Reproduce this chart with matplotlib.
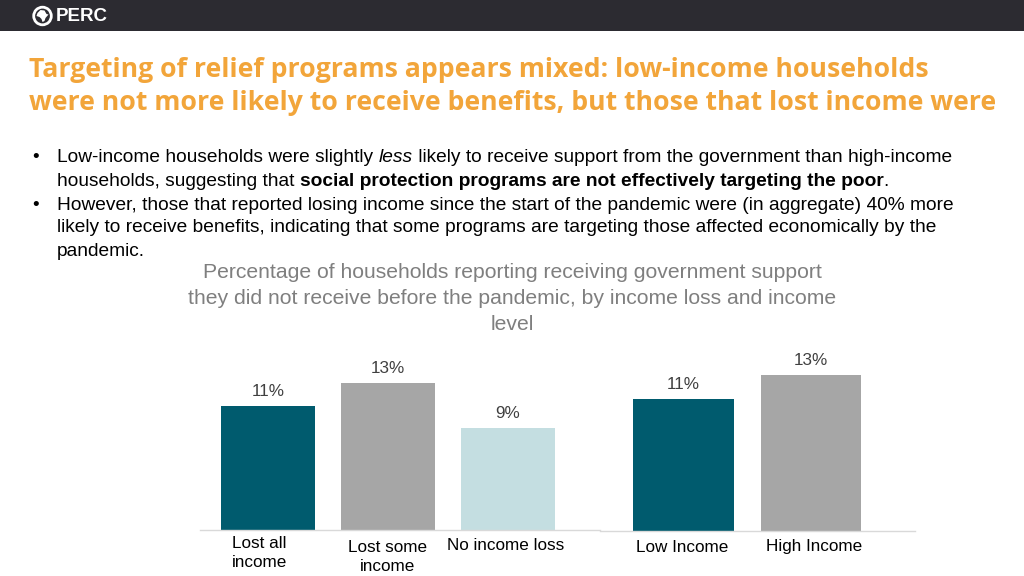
import matplotlib
matplotlib.use("Agg")
import matplotlib.pyplot as plt
from matplotlib.patches import Rectangle, Circle, Polygon

# ---- data ----
loss_categories = ["Lost all\nincome", "Lost some\nincome", "No income loss"]
loss_values = [11, 13, 9]
loss_labels = ["11%", "13%", "9%"]
income_categories = ["Low Income", "High Income"]
income_values = [11, 13]
income_labels = ["11%", "13%"]

title_lines = ["Targeting of relief programs appears mixed: low-income households",
               "were not more likely to receive benefits, but those that lost income were"]
chart_title = ("Percentage of households reporting receiving government support\n"
               "they did not receive before the pandemic, by income loss and income\nlevel")

TEAL = "#005b6e"
GREY = "#a6a6a6"
LIGHT = "#c4dee1"
ORANGE = "#f2a53a"

W, H = 1024, 576
fig = plt.figure(figsize=(W / 100, H / 100), dpi=100)
fig.patch.set_facecolor("white")

def fx(px):
    return px / W

def fy(py):
    return 1 - py / H

# header bar
fig.patches.append(Rectangle((0, fy(31)), 1, 31 / H, transform=fig.transFigure,
                             facecolor="#2c2b31", edgecolor="none", zorder=0))
# logo: circle with a rough Africa silhouette (pixel -> inch coordinates)
cx, cy = 42.5, 16.0
fig.patches.append(Circle((cx / 100, (H - cy) / 100), 0.088, transform=fig.dpi_scale_trans,
                          facecolor="none", edgecolor="white", linewidth=2.0))
africa_px = [(-5, -3), (-2, -6), (2, -5.5), (4, -2), (6, -1.5), (3, 2), (2, 5), (0, 6),
             (-1, 3), (-3, 1), (-6, 0)]
fig.patches.append(Polygon([((cx + dx) / 100, (H - cy - dy) / 100) for dx, dy in africa_px],
                           closed=True, transform=fig.dpi_scale_trans,
                           facecolor="white", edgecolor="none"))
fig.text(fx(56), fy(16.5), "PERC", color="white", fontsize=13.5, fontweight="bold",
         family="Liberation Sans", va="center", ha="left")

# title
for i, line in enumerate(title_lines):
    fig.text(fx(29), fy(70 + 33.5 * i), line, color=ORANGE, fontsize=19.2,
             family="Open Sans", fontweight="bold", va="center", ha="left")

# bullets with mixed styles
fig.canvas.draw()
renderer = fig.canvas.get_renderer()
BFS = 13.8

def runs(x0, y, parts):
    x = x0
    for txt, style, weight in parts:
        t = fig.text(fx(x), fy(y), txt, fontsize=BFS, family="Liberation Sans",
                     style=style, fontweight=weight, va="center", ha="left", color="black")
        bb = t.get_window_extent(renderer=renderer)
        x += bb.width

bullet_lines = [
    (158, True, [("Low-income households were slightly ", "normal", "normal"),
                 ("less", "italic", "normal"),
                 (" likely to receive support from the government than high-income", "normal", "normal")]),
    (181, False, [("households, suggesting that ", "normal", "normal"),
                  ("social protection programs are not effectively targeting the poor", "normal", "bold"),
                  (".", "normal", "normal")]),
    (205, True, [("However, those that reported losing income since the start of the pandemic were (in aggregate) 40% more", "normal", "normal")]),
    (228, False, [("likely to receive benefits, indicating that some programs are targeting those affected economically by the", "normal", "normal")]),
    (251, False, [("pandemic.", "normal", "normal")]),
]
for y, bullet, parts in bullet_lines:
    if bullet:
        fig.text(fx(32), fy(y), "\u2022", fontsize=BFS, family="Liberation Sans",
                 va="center", ha="left", color="black")
    runs(57, y, parts)

fig.text(fx(512), fy(298.5), chart_title, fontsize=15.2, family="Liberation Sans",
         color="#7f7f7f", ha="center", va="center", linespacing=1.45)

# ---- chart 1 ----
ax1 = fig.add_axes([fx(200), fy(530), fx(400), 190 / H])
x1 = list(range(len(loss_values)))
ax1.bar(x1, loss_values, width=0.78, color=[TEAL, GREY, LIGHT])
ax1.set_xlim(-0.567, 2.767)
ax1.set_ylim(0, 190 / 11.3)

# ---- chart 2 ----
ax2 = fig.add_axes([fx(600), fy(531), fx(315), 190 / H])
x2 = list(range(len(income_values)))
ax2.bar(x2, income_values, width=0.79, color=[TEAL, GREY])
ax2.set_xlim(-0.655, 1.816)
ax2.set_ylim(0, 190 / 12.0)

for ax, xs, vals, labs in [(ax1, x1, loss_values, loss_labels),
                           (ax2, x2, income_values, income_labels)]:
    for s in ["top", "right", "left"]:
        ax.spines[s].set_visible(False)
    ax.spines["bottom"].set_color("#d9d9d9")
    ax.spines["bottom"].set_linewidth(1.0)
    ax.set_yticks([])
    ax.set_xticks([])
    ax.patch.set_alpha(0)
    for xi, v, lab in zip(xs, vals, labs):
        ax.annotate(lab, (xi, v), xytext=(0, 5), textcoords="offset points",
                    ha="center", va="bottom", fontsize=12.3, color="#404040",
                    family="Liberation Sans")

# category labels (individual offsets as in the original)
cat_offsets1 = [(-6, -4), (0, -7), (-1.5, -6)]
for xi, lab, (dx, dy) in zip(x1, loss_categories, cat_offsets1):
    ax1.annotate(lab, (xi, 0), xytext=(dx, dy), textcoords="offset points",
                 ha="center", va="top", fontsize=12.3, color="black",
                 family="Liberation Sans", linespacing=1.38, annotation_clip=False)
cat_offsets2 = [(-1, -6.7), (2, -5.7)]
for xi, lab, (dx, dy) in zip(x2, income_categories, cat_offsets2):
    ax2.annotate(lab, (xi, 0), xytext=(dx, dy), textcoords="offset points",
                 ha="center", va="top", fontsize=12.3, color="black",
                 family="Liberation Sans", annotation_clip=False)

fig.savefig("out.png", dpi=100, facecolor="white")
